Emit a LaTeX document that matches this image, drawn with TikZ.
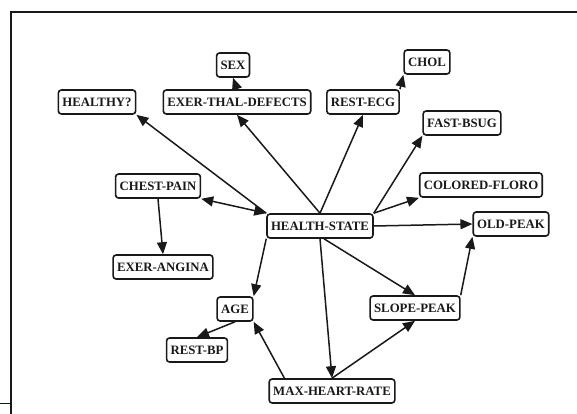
\documentclass[tikz,border=0pt]{standalone}
\usepackage{fontspec}
\setmainfont{Liberation Serif}
\usepackage{xcolor}
\usepackage{tikz}
\usetikzlibrary{arrows.meta}
\definecolor{figink}{RGB}{25,25,25}
\tikzstyle{varbox} = [draw=figink, line width=1.6pt, rounded corners=3pt, fill=white,
    minimum height=24pt, inner xsep=4pt, inner ysep=2pt,
    font=\fontsize{12.8}{14}\selectfont\bfseries, text=figink]
\tikzstyle{arrow} = [-{Triangle[length=12pt, width=10pt]}, line width=1.5pt, draw=figink]
\tikzstyle{twoway} = [{Triangle[length=12pt, width=10pt]}-{Triangle[length=12pt, width=10pt]}, line width=1.5pt, draw=figink]

\begin{document}
\begin{tikzpicture}[x=1pt, y=-1pt]
    \useasboundingbox (0,0) rectangle (577,414);
    % frame of the screen shot
    \draw[line width=1.8pt, figink] (11,414) -- (11,12) -- (577,12);
    \draw[line width=1pt, figink] (0,403) -- (11,403);

    % variables
    \node[varbox] (hs) at (320,226) {HEALTH-STATE};
    \node[varbox] (healthy) at (97,102) {HEALTHY?};
    \node[varbox] (sex) at (233,65) {SEX};
    \node[varbox] (thal) at (237,102) {EXER-THAL-DEFECTS};
    \node[varbox] (ecg) at (363,102) {REST-ECG};
    \node[varbox] (chol) at (427,62) {CHOL};
    \node[varbox] (bsug) at (462,123) {FAST-BSUG};
    \node[varbox] (pain) at (158,186) {CHEST-PAIN};
    \node[varbox] (floro) at (481,185) {COLORED-FLORO};
    \node[varbox] (oldpeak) at (511,224) {OLD-PEAK};
    \node[varbox] (angina) at (163,267) {EXER-ANGINA};
    \node[varbox] (age) at (235,309) {AGE};
    \node[varbox] (slope) at (415,308) {SLOPE-PEAK};
    \node[varbox] (restbp) at (197,350) {REST-BP};
    \node[varbox] (maxhr) at (332,391) {MAX-HEART-RATE};

    % links out of the health state
    \draw[arrow] (hs.north west) -- (healthy.south east);
    \draw[arrow] (hs.north) -- (thal.south);
    \draw[arrow] (hs.north) -- (ecg.south);
    \draw[arrow] (hs.north east) -- (bsug.south west);
    \draw[arrow] (hs.north east) -- (floro.south west);
    \draw[twoway] (pain.south east) -- (hs.north west);
    \draw[arrow] (hs.east) -- (oldpeak.west);
    \draw[arrow] (hs.south west) -- (age.north east);
    \draw[arrow] (hs.south) -- (maxhr.north);
    \draw[arrow] ([xshift=4pt]hs.south) -- (slope.north);

    % the other links
    \draw[arrow] (ecg.north east) -- (chol.south west);
    \draw[arrow] (thal.north) -- (sex.south);
    \draw[arrow] (pain.south) -- (angina.north);
    \draw[arrow] (slope.north east) -- (oldpeak.south west);
    \draw[arrow] (age.south) -- (restbp.north);
    \draw[arrow] ([xshift=16pt]maxhr.north west) -- (age.south east);
    \draw[arrow] (maxhr.north) -- (slope.south);
\end{tikzpicture}
\end{document}
